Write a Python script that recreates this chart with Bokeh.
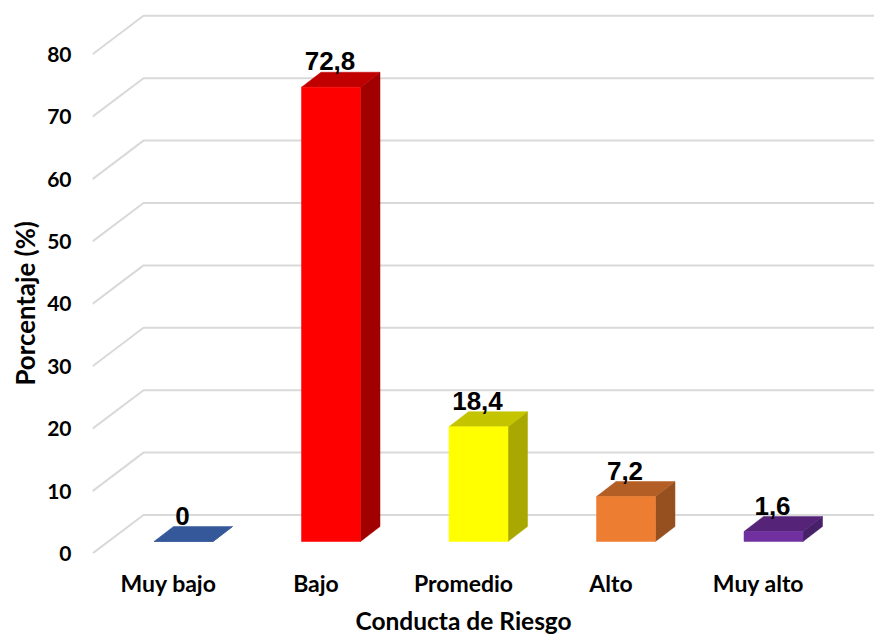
from bokeh.plotting import figure
from bokeh.models import ColumnDataSource, FixedTicker, Range1d, Title
from bokeh.core.properties import value
from bokeh.embed import file_html
from bokeh.resources import INLINE

categories = ["Muy bajo", "Bajo", "Promedio", "Alto", "Muy alto"]
values = [0, 72.8, 18.4, 7.2, 1.6]
value_labels = ["0", "72,8", "18,4", "7,2", "1,6"]
y_ticks = [0, 10, 20, 30, 40, 50, 60, 70, 80]
x_title = "Conducta de Riesgo"
y_title = "Porcentaje (%)"
front_colors = ["#3A5B9C", "#FF0000", "#FFFF00", "#ED7D31", "#7030A0"]
top_colors = ["#35589A", "#C00000", "#C4C400", "#B35E25", "#552479"]
side_colors = ["#2B4778", "#A00000", "#A8A800", "#965020", "#47206A"]

# pixel scale of the frame
PX_X = 147.5        # px per category
PX_Y = 6.24         # px per percentage point
LEFT, RIGHT, BOTTOM, TOP = 92, 874, 553, 0
X0 = 168            # px of first category

def dx(px):
    return px / PX_X

def dy(px):
    return px / PX_Y

p = figure(
    width=874, height=639,
    output_backend="svg", toolbar_location=None,
    x_range=Range1d((LEFT - X0) / PX_X, (RIGHT - X0) / PX_X),
    y_range=Range1d(0, (BOTTOM - TOP) / PX_Y),
    min_border_left=LEFT, min_border_right=0, min_border_top=0,
    min_border_bottom=639 - BOTTOM, outline_line_color=None,
    background_fill_color="white", border_fill_color="white",
)
p.grid.visible = False

# grid: floor/wall lines
x_start, x_end = p.x_range.start, p.x_range.end
p.multi_line(
    xs=[[x_start, x_start + dx(51), x_end] for _ in y_ticks],
    ys=[[t, t + dy(38.5), t + dy(38.5)] for t in y_ticks],
    line_color="#D9D9D9", line_width=2,
)

# bars
off_y, w = dy(12), dx(59)
depth_x, depth_y = dx(19.5), dy(15)
front_x, front_y, top_x, top_y, side_x, side_y = [], [], [], [], [], []
for i, v in enumerate(values):
    l = i + dx(15) - w / 2
    r = l + w
    b = off_y
    t = off_y + v
    front_x.append([l, r, r, l])
    front_y.append([b, b, t, t])
    top_x.append([l, r, r + depth_x, l + depth_x])
    top_y.append([t, t, t + depth_y, t + depth_y])
    side_x.append([r, r + depth_x, r + depth_x, r])
    side_y.append([b, b + depth_y, t + depth_y, t])

p.patches(side_x, side_y, fill_color=side_colors, line_color=side_colors, line_width=0.5)
p.patches(top_x, top_y, fill_color=top_colors, line_color=top_colors, line_width=0.5)
p.patches(front_x, front_y, fill_color=front_colors, line_color=front_colors, line_width=0.5)

# value labels
src = ColumnDataSource(dict(
    x=[i + dx(14) for i in range(len(values))],
    y=[v + off_y + depth_y for v in values],
    t=value_labels,
))
p.text("x", "y", text="t", source=src, text_align="center", text_baseline="alphabetic",
       y_offset=-11, text_font=value("Liberation Sans"), text_font_style="bold",
       text_font_size="26px", text_color="black")

# axes
ya = p.yaxis[0]
ya.ticker = FixedTicker(ticks=y_ticks)
ya.axis_line_color = None
ya.major_tick_line_color = None
ya.minor_tick_line_color = None
ya.major_label_standoff = 15
ya.major_label_text_font = "Lato"
ya.major_label_text_font_style = "bold"
ya.major_label_text_font_size = "21px"
ya.major_label_text_color = "black"

xa = p.xaxis[0]
xa.ticker = FixedTicker(ticks=list(range(len(categories))))
xa.major_label_overrides = {i: c for i, c in enumerate(categories)}
xa.axis_line_color = None
xa.major_tick_line_color = None
xa.minor_tick_line_color = None
xa.major_label_standoff = 9
xa.major_label_text_font = "Lato"
xa.major_label_text_font_style = "bold"
xa.major_label_text_font_size = "23px"
xa.major_label_text_color = "black"

# axis titles, which sit off-centre from the plot frame
p.add_layout(Title(
    text=x_title, align="left", offset=355 - LEFT, standoff=9, text_font="Lato",
    text_font_style="bold", text_font_size="24.5px", text_color="black",
), "below")
p.add_layout(Title(
    text=y_title, align="left", offset=BOTTOM - 385, standoff=10, text_font="Lato",
    text_font_style="bold", text_font_size="25.8px", text_color="black",
), "left")

open("out.html", "w").write(file_html(p, INLINE))
